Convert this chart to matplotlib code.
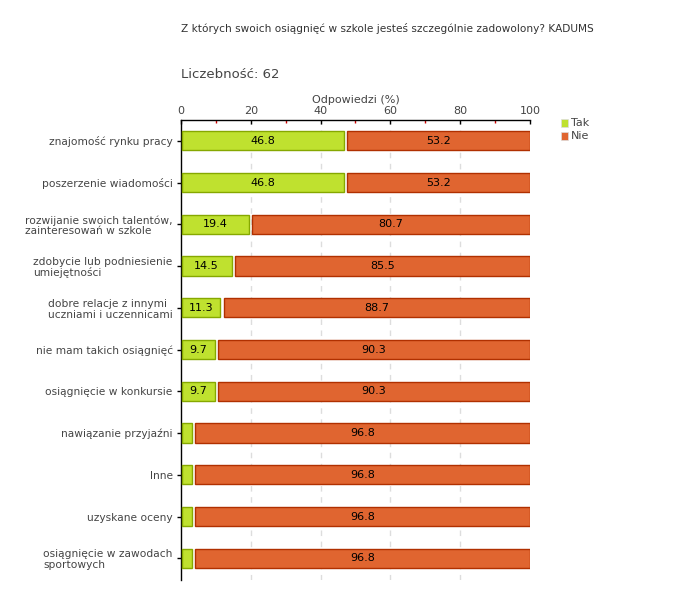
import matplotlib
matplotlib.use("Agg")
import matplotlib.pyplot as plt
from matplotlib.ticker import MultipleLocator
import numpy as np

categories = [
    "znajomość rynku pracy",
    "poszerzenie wiadomości",
    "rozwijanie swoich talentów,\nzainteresowań w szkole",
    "zdobycie lub podniesienie\numiejętności",
    "dobre relacje z innymi\nuczniami i uczennicami",
    "nie mam takich osiągnięć",
    "osiągnięcie w konkursie",
    "nawiązanie przyjaźni",
    "Inne",
    "uzyskane oceny",
    "osiągnięcie w zawodach\nsportowych",
]
tak = [46.8, 46.8, 19.4, 14.5, 11.3, 9.7, 9.7, 3.2, 3.2, 3.2, 3.2]
nie = [53.2, 53.2, 80.7, 85.5, 88.7, 90.3, 90.3, 96.8, 96.8, 96.8, 96.8]
series_names = ["Tak", "Nie"]
title = "Z których swoich osiągnięć w szkole jesteś szczególnie zadowolony? KADUMS"
count_label = "Liczebność: 62"
axis_label = "Odpowiedzi (%)"

GREEN = "#bfe12f"
GREEN_EDGE = "#86a800"
ORANGE = "#e06530"
ORANGE_EDGE = "#b03000"
TEXT = "#444444"

plt.rcParams['font.family'] = ['DejaVu Sans']

fig = plt.figure(figsize=(6.8, 6.0), dpi=100)
ax = fig.add_axes([181/680, 1-580/600, (530-181)/680, (580-120)/600])

y = np.arange(len(categories))
h = 0.46
gap = 0.9
tak_a = np.array(tak)
nie_a = np.array(nie)
ax.barh(y, tak_a - 0.3, left=0.3, height=h, color=GREEN, edgecolor=GREEN_EDGE, linewidth=1, zorder=3)
ax.barh(y, 100 - tak_a - gap, left=tak_a + gap, height=h, color=ORANGE, edgecolor=ORANGE_EDGE, linewidth=1, zorder=3)

for yi, t, n in zip(y, tak_a, nie_a):
    if t >= 5:
        ax.text(t / 2, yi, f"{t:.1f}", ha="center", va="center", fontsize=8, color="black", zorder=4)
    ax.text(t + gap + (100 - t - gap) / 2, yi, f"{n:.1f}", ha="center", va="center", fontsize=8, color="black", zorder=4)

ax.set_xlim(0, 100)
ax.set_ylim(len(categories) - 1 + 0.52, -0.5)
ax.xaxis.tick_top()
ax.xaxis.set_label_position("top")
ax.xaxis.set_major_locator(MultipleLocator(20))
ax.xaxis.set_minor_locator(MultipleLocator(10))
ax.tick_params(axis="x", which="major", direction="in", length=3, width=1, color="black", labelsize=8, labelcolor=TEXT, pad=3)
ax.tick_params(axis="x", which="minor", direction="in", length=2, width=1, color="#cc0000")
ax.set_xlabel(axis_label, fontsize=8, color=TEXT, labelpad=2)

ax.set_yticks(y)
ax.set_yticklabels(categories, fontsize=7.7, color=TEXT, multialignment="left", linespacing=1.1)
ax.tick_params(axis="y", direction="out", length=3, width=1, color="black", pad=3)

for s in ["right", "bottom"]:
    ax.spines[s].set_visible(False)
for s in ["top", "left"]:
    ax.spines[s].set_color("black")
    ax.spines[s].set_linewidth(1)

for gx in [20, 40, 60, 80]:
    ax.axvline(gx, color="#dddddd", linestyle=(0, (4, 4)), linewidth=1, zorder=1)

fig.text(181/680, 1-29/600, title, fontsize=7.6, color="#333333", ha="left", va="center")
fig.text(181/680, 1-75/600, count_label, fontsize=9.5, color=TEXT, ha="left", va="center")

# legend
for i, (name, col) in enumerate(zip(series_names, [GREEN, ORANGE])):
    yy = 1 - (123 + 13*i)/600
    fig.patches.append(plt.Rectangle((561/680, yy - 3.5/600), 7/680, 7/600, transform=fig.transFigure,
                                     facecolor=col, edgecolor="#dddddd", linewidth=0.5))
    fig.text(571/680, yy, name, fontsize=8, color=TEXT, ha="left", va="center")

fig.savefig("out.png", dpi=100)
